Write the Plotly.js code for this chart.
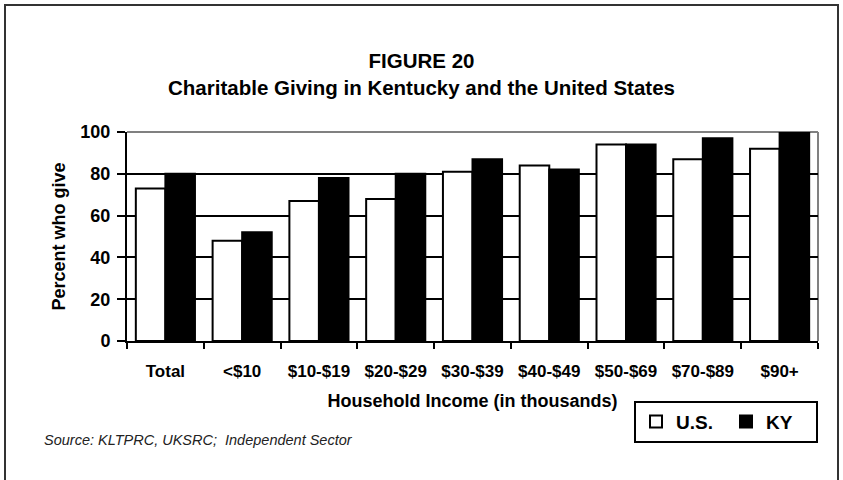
<!DOCTYPE html>
<html>
<head>
<meta charset="utf-8">
<script src="https://cdn.plot.ly/plotly-3.0.1.min.js"></script>
<style>
html,body{margin:0;padding:0;background:#fff;}
#chart{width:843px;height:480px;}
</style>
</head>
<body>
<div id="chart"></div>
<script>
const categories = ["Total", "<$10", "$10-$19", "$20-$29", "$30-$39", "$40-$49", "$50-$69", "$70-$89", "$90+"];
const usValues = [73, 48, 67, 68, 81, 84, 94, 87, 92];
const kyValues = [80, 52, 78, 80, 87, 82, 94, 97, 100];
const yTicks = [0, 20, 40, 60, 80, 100];

const FONT = '"Liberation Sans Narrow", "Arial Narrow", "Liberation Sans", Arial, sans-serif';

const traces = [
  {type: 'bar', name: 'U.S.', x: categories, y: usValues,
   marker: {color: '#ffffff', line: {color: '#000000', width: 2}}},
  {type: 'bar', name: 'KY', x: categories, y: kyValues,
   marker: {color: '#000000', line: {color: '#000000', width: 2}}}
];

const layout = {
  width: 843, height: 480,
  margin: {l: 127, r: 25, t: 132, b: 139},
  paper_bgcolor: '#ffffff', plot_bgcolor: '#ffffff',
  font: {family: FONT, color: '#000000'},
  showlegend: true,
  barmode: 'group', bargap: 0.23, bargroupgap: 0,
  title: {
    text: '<b>FIGURE 20</b><br><b>Charitable Giving in Kentucky and the United States</b>',
    x: 0.5, xref: 'container', xanchor: 'center',
    y: 1 - 68/480, yref: 'container', yanchor: 'top',
    font: {family: FONT, size: 20.5, color: '#000000'}
  },
  xaxis: {
    type: 'category',
    tickson: 'boundaries', ticks: 'outside', ticklen: 6, tickwidth: 2, tickcolor: '#000',
    ticklabelstandoff: 14,
    showline: true, linecolor: '#000', linewidth: 2,
    showgrid: false,
    tickfont: {family: FONT, size: 17, color: '#000', weight: 'bold'},
    title: {text: '<b>Household Income (in thousands)</b>', standoff: 14,
            font: {family: FONT, size: 18, color: '#000'}},
    fixedrange: true
  },
  yaxis: {
    range: [0, 100], tickvals: yTicks, ticktext: yTicks.map(String),
    ticks: 'outside', ticklen: 8, tickwidth: 2, tickcolor: '#000',
    ticklabelstandoff: 3,
    showline: true, linecolor: '#000', linewidth: 2,
    showgrid: true, gridcolor: '#000', gridwidth: 2,
    zeroline: false,
    tickfont: {family: FONT, size: 18, color: '#000', weight: 'bold'},
    title: {text: '<b>Percent who give</b>', standoff: 10,
            font: {family: FONT, size: 18, color: '#000'}},
    fixedrange: true
  },
  legend: {
    orientation: 'h', x: 1, xanchor: 'right', y: -0.285, yanchor: 'top',
    xref: 'paper', yref: 'paper',
    bordercolor: '#000', borderwidth: 2, bgcolor: '#fff',
    font: {family: FONT, size: 19, color: '#000', weight: 'bold'},
    itemwidth: 30, entrywidth: 45, traceorder: 'normal'
  },
  shapes: [
    {type: 'line', xref: 'paper', yref: 'paper', x0: 0, x1: 1, y0: 1, y1: 1,
     line: {color: '#808080', width: 2}, layer: 'between'},
    {type: 'line', xref: 'paper', yref: 'paper', x0: 1, x1: 1, y0: 0, y1: 1,
     line: {color: '#808080', width: 2}, layer: 'between'},
    {type: 'rect', xref: 'paper', yref: 'paper',
     x0: (5-127)/691, x1: (838-127)/691, y0: (341-490)/209, y1: (341-5)/209,
     line: {color: '#333333', width: 2}, fillcolor: 'rgba(0,0,0,0)'}
  ],
  annotations: [
    {text: '<i>Source: KLTPRC, UKSRC;  Independent Sector</i>',
     xref: 'paper', yref: 'paper', x: (42-127)/691, xanchor: 'left',
     y: (341-440)/209, yanchor: 'middle', showarrow: false,
     font: {family: FONT, size: 14.5, color: '#222'}}
  ]
};

Plotly.newPlot('chart', traces, layout, {staticPlot: true, displayModeBar: false});
</script>
</body>
</html>
